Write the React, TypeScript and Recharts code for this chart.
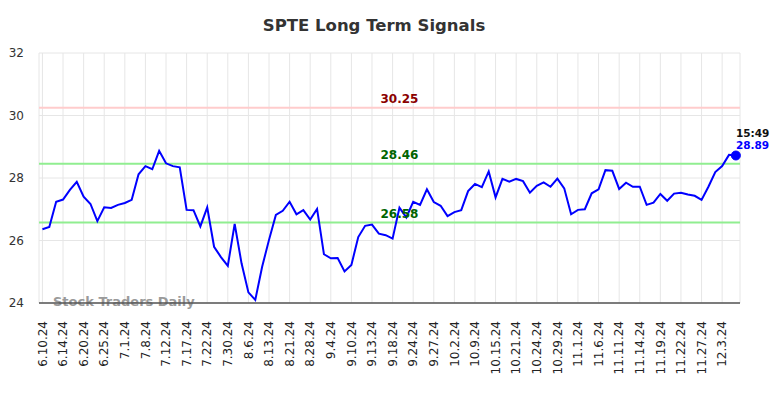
import React from 'react';
import { LineChart, Line, XAxis, YAxis, CartesianGrid, ReferenceLine } from 'recharts';

const tickLabels = [
  '6.10.24', '6.14.24', '6.20.24', '6.25.24', '7.1.24', '7.8.24', '7.12.24', '7.17.24',
  '7.22.24', '7.30.24', '8.6.24', '8.13.24', '8.21.24', '8.28.24', '9.4.24', '9.10.24',
  '9.13.24', '9.18.24', '9.24.24', '9.27.24', '10.2.24', '10.9.24', '10.15.24', '10.21.24',
  '10.24.24', '10.29.24', '11.1.24', '11.6.24', '11.11.24', '11.14.24', '11.19.24',
  '11.22.24', '11.27.24', '12.3.24',
];

const prices = [
  26.36, 26.43, 27.24, 27.31, 27.62, 27.88, 27.40, 27.17, 26.62, 27.06,
  27.04, 27.14, 27.20, 27.30, 28.12, 28.38, 28.28, 28.87, 28.47, 28.38,
  28.34, 26.98, 26.97, 26.45, 27.06, 25.80, 25.47, 25.19, 26.53, 25.27,
  24.34, 24.10, 25.16, 26.02, 26.82, 26.95, 27.24, 26.84, 26.97, 26.67,
  27.01, 25.56, 25.43, 25.44, 25.01, 25.22, 26.11, 26.47, 26.51, 26.22,
  26.17, 26.06, 27.05, 26.74, 27.24, 27.14, 27.64, 27.23, 27.11, 26.78,
  26.91, 26.97, 27.58, 27.81, 27.71, 28.21, 27.38, 27.97, 27.88, 27.97,
  27.90, 27.53, 27.75, 27.86, 27.72, 27.98, 27.67, 26.84, 26.98, 27.00,
  27.51, 27.64, 28.25, 28.23, 27.65, 27.85, 27.72, 27.72, 27.14, 27.21,
  27.49, 27.27, 27.50, 27.53, 27.47, 27.43, 27.30, 27.72, 28.19, 28.38,
  28.74, 28.72,
];

const yTicks = [24, 26, 28, 30, 32];
const resistance = 30.25;
const upperSupport = 28.46;
const lowerSupport = 26.58;
const lastTime = '15:49';
const lastPriceLabel = '28.89';
const title = 'SPTE Long Term Signals';
const watermark = 'Stock Traders Daily';

const TICK_STEP = 3;
const data = prices.map((v, i) => ({ i, price: v }));
const xTicks = tickLabels.map((_, k) => k * TICK_STEP);

const FONT = '"DejaVu Sans", sans-serif';

const XTick = (props: any) => {
  const { x, y, payload } = props;
  const label = tickLabels[Math.round(payload.value / TICK_STEP)] ?? '';
  return (
    <text
      x={x}
      y={y}
      dy="0.35em"
      transform={`rotate(-90, ${x}, ${y})`}
      textAnchor="end"
      fontSize={12}
      fontFamily={FONT}
      fill="#222"
    >
      {label}
    </text>
  );
};

const lastIndex = prices.length - 1;

const renderDot = (props: any) => {
  const { cx, cy, index } = props;
  if (index !== lastIndex) return <g key={`d${index}`} />;
  return (
    <g key={`d${index}`}>
      <circle cx={cx} cy={cy} r={4.5} fill="#0000ff" stroke="#0000ff" />
      <text x={cx} y={cy - 19} fontSize={10.5} fontWeight="bold" fontFamily={FONT} fill="#111">
        {lastTime}
      </text>
      <text x={cx} y={cy - 6.5} fontSize={10.5} fontWeight="bold" fontFamily={FONT} fill="#0000ff">
        {lastPriceLabel}
      </text>
    </g>
  );
};

const refLabel = (value: string, color: string) => ({
  value,
  position: 'center' as const,
  dx: 10,
  dy: -9,
  fill: color,
  fontSize: 12,
  fontWeight: 'bold',
  fontFamily: FONT,
});

export default function App() {
  return (
    <div style={{ position: 'absolute', left: 0, top: 0, width: 784, height: 398, background: '#fff' }}>
      <LineChart
        width={784}
        height={398}
        data={data}
        margin={{ top: 53, right: 44, bottom: 0, left: 0 }}
        style={{ overflow: 'visible' }}
      >
        <text
          x={374}
          y={31}
          textAnchor="middle"
          fontSize={16.5}
          fontWeight="bold"
          fontFamily={FONT}
          fill="#333"
        >
          {title}
        </text>
        <CartesianGrid stroke="#e6e6e6" strokeWidth={1} />
        <XAxis
          dataKey="i"
          type="number"
          domain={[-0.5, 101.6]}
          ticks={xTicks}
          interval={0}
          height={95}
          tickLine={false}
          tickSize={6}
          tickMargin={12}
          axisLine={{ stroke: '#555', strokeWidth: 1.5 }}
          tick={<XTick />}
        />
        <YAxis
          domain={[24, 32]}
          ticks={yTicks}
          width={39}
          axisLine={false}
          tickLine={false}
          tickSize={6}
          tickMargin={9}
          tick={{ fontSize: 12, fontFamily: FONT, fill: '#333' }}
        />
        <text
          x={53}
          y={306}
          fontSize={13}
          fontWeight="bold"
          fontFamily={FONT}
          fill="#9a9a9a"
        >
          {watermark}
        </text>
        <ReferenceLine y={resistance} stroke="#ffcccc" strokeWidth={2} label={refLabel('30.25', '#8b0000')} />
        <ReferenceLine y={upperSupport} stroke="#90ee90" strokeWidth={2} label={refLabel('28.46', '#006400')} />
        <ReferenceLine y={lowerSupport} stroke="#90ee90" strokeWidth={2} label={refLabel('26.58', '#006400')} />
        <Line
          type="linear"
          dataKey="price"
          stroke="#0000ff"
          strokeWidth={2}
          dot={renderDot}
          activeDot={false}
          isAnimationActive={false}
        />
      </LineChart>
    </div>
  );
}
